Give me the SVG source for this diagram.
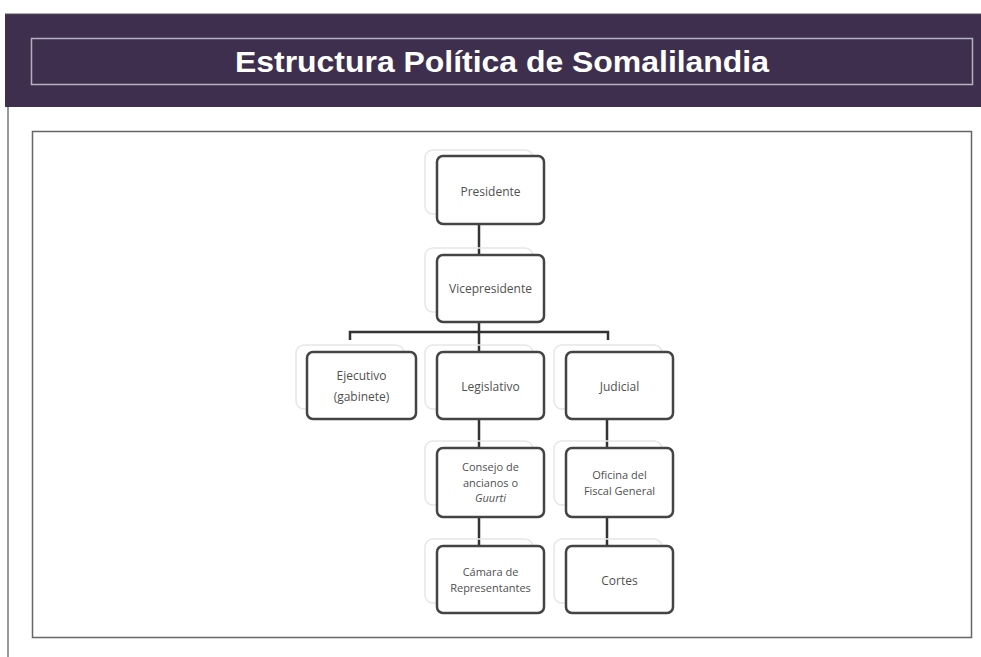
<svg xmlns="http://www.w3.org/2000/svg" width="981" height="657" viewBox="0 0 981 657">
<style>
.node{fill:#fff;stroke:#444;stroke-width:2.5}
.ghost{fill:none;stroke:#e6e6e6;stroke-width:1.5}
.t{font-family:"Open Sans","Liberation Sans",sans-serif;font-size:12px;fill:#505050;text-anchor:middle}
.m{font-size:11px}
.c{stroke:#333;stroke-width:2.5;fill:none}
</style>
<rect width="981" height="657" fill="#fff"/>
<rect x="5" y="14" width="976" height="93" fill="#3e2f4e"/>
<line x1="8" y1="107" x2="8" y2="657" stroke="#777" stroke-width="1.5"/>
<line x1="5" y1="14" x2="981" y2="14" stroke="#555" stroke-width="1"/>
<rect x="31.5" y="38.5" width="941" height="46" fill="none" stroke="#b8b0c0" stroke-width="1.5"/>
<text x="502" y="72" font-family="'Liberation Sans',Arial,sans-serif" font-weight="bold" font-size="30" fill="#fff" text-anchor="middle" textLength="534" lengthAdjust="spacingAndGlyphs">Estructura Política de Somalilandia</text>
<rect x="32.5" y="131.5" width="939" height="506" fill="#fff" stroke="#666" stroke-width="1.5"/>
<g id="connectors">
<line class="c" x1="479" y1="224" x2="479" y2="255"/>
<line class="c" x1="479" y1="322" x2="479" y2="352"/>
<polyline class="c" points="350,340 350,332 608,332 608,340"/>
<line class="c" x1="479" y1="419" x2="479" y2="448"/>
<line class="c" x1="607" y1="419" x2="607" y2="448"/>
<line class="c" x1="479" y1="517" x2="479" y2="546"/>
<line class="c" x1="607" y1="517" x2="607" y2="546"/>
</g>
<g id="presidente">
<rect class="ghost" x="425" y="150" width="108" height="64" rx="8"/>
<rect class="node" x="437" y="156" width="107" height="68" rx="6"/>
<text class="t" x="490.5" y="196">Presidente</text>
</g>
<g id="vicepresidente">
<rect class="ghost" x="425" y="248" width="108" height="64" rx="8"/>
<rect class="node" x="437" y="255" width="107" height="67" rx="6"/>
<text class="t" x="490.5" y="293">Vicepresidente</text>
</g>
<g id="ejecutivo">
<rect class="ghost" x="296" y="345" width="108" height="64" rx="8"/>
<rect class="node" x="307" y="352" width="109" height="67" rx="6"/>
<text class="t" x="361.5" y="380">Ejecutivo</text>
<text class="t" x="361.5" y="401">(gabinete)</text>
</g>
<g id="legislativo">
<rect class="ghost" x="425" y="345" width="108" height="64" rx="8"/>
<rect class="node" x="437" y="352" width="107" height="67" rx="6"/>
<text class="t" x="490.5" y="391">Legislativo</text>
</g>
<g id="judicial">
<rect class="ghost" x="554" y="345" width="108" height="64" rx="8"/>
<rect class="node" x="566" y="352" width="107" height="67" rx="6"/>
<text class="t" x="619.5" y="391">Judicial</text>
</g>
<g id="consejo">
<rect class="ghost" x="425" y="441" width="108" height="64" rx="8"/>
<rect class="node" x="437" y="448" width="107" height="69" rx="6"/>
<text class="t m" x="490.5" y="471">Consejo de</text>
<text class="t m" x="490.5" y="486.5">ancianos o</text>
<text class="t m" x="490.5" y="502" font-style="italic">Guurti</text>
</g>
<g id="oficina">
<rect class="ghost" x="554" y="441" width="108" height="64" rx="8"/>
<rect class="node" x="566" y="448" width="107" height="69" rx="6"/>
<text class="t m" x="619.5" y="479">Oficina del</text>
<text class="t m" x="619.5" y="494.5">Fiscal General</text>
</g>
<g id="camara">
<rect class="ghost" x="425" y="539" width="108" height="64" rx="8"/>
<rect class="node" x="437" y="546" width="107" height="67" rx="6"/>
<text class="t m" x="490.5" y="576">Cámara de</text>
<text class="t m" x="490.5" y="591.5">Representantes</text>
</g>
<g id="cortes">
<rect class="ghost" x="554" y="539" width="108" height="64" rx="8"/>
<rect class="node" x="566" y="546" width="107" height="67" rx="6"/>
<text class="t" x="619.5" y="585">Cortes</text>
</g>
</svg>
